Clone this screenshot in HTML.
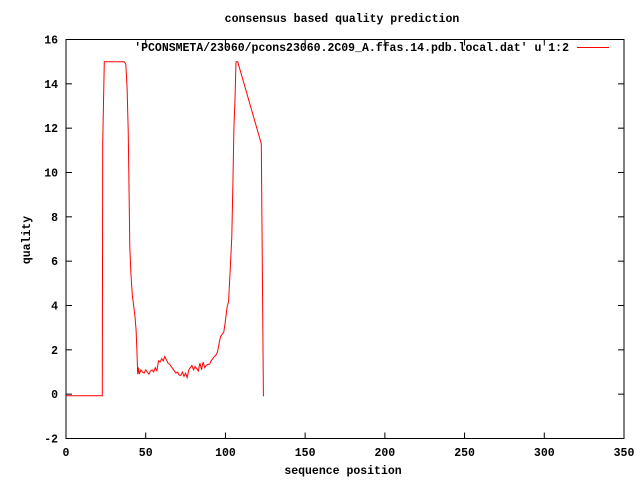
<!DOCTYPE html>
<html><head><meta charset="utf-8"><style>
html,body{margin:0;padding:0;background:#fff;}
svg text{font-family:"Liberation Mono",monospace;font-weight:bold;font-size:11.5px;fill:#000;}
</style></head><body>
<svg id="chart" width="640" height="480" viewBox="0 0 640 480" xmlns="http://www.w3.org/2000/svg">
<rect width="640" height="480" fill="#fff"/>
<text x="342" y="22" text-anchor="middle">consensus based quality prediction</text>
<text x="343" y="474" text-anchor="middle">sequence position</text>
<text x="0" y="0" text-anchor="middle" transform="translate(30,240) rotate(-90)">quality</text>
<g id="ticks"></g>
<rect x="66" y="39.5" width="558" height="399" fill="none" stroke="#000" stroke-width="1"/>
<g>
<text x="569" y="51" text-anchor="end">'PCONSMETA/23060/pcons23060.2C09_A.ffas.14.pdb.local.dat' u 1:2</text>
<line x1="577" y1="47.5" x2="609" y2="47.5" stroke="#f00" stroke-width="1"/>
</g>
<polyline id="series" fill="none" stroke="#f00" stroke-width="1"/>
</svg>
<script>
const xTicks = [0,50,100,150,200,250,300,350];
const yTicks = [-2,0,2,4,6,8,10,12,14,16];
const seqPos = [0,22.8,23,24,36.5,37.5,38.3,39,39.6,40,40.7,41.6,42.5,43.3,44,44.5,45,45.5,46,47,48,49,50,51,52,53,54,55,56,57,58,59,60,61,62,63,64,65,66,67,68,69,70,71,72,73,74,75,76,77,78,79,80,81,82,83,84,85,86,87,88,89,90,91,92,93,94,95,96,97,98,99,100,101,102,103,104,104.7,105.3,106,106.6,107.7,122.5,123.8,124.2,315.5];
const quality = [-0.07,-0.07,11.3,15,15,14.9,13.8,11.9,9.05,6.65,5.45,4.47,3.94,3.49,2.89,1.98,0.9,1.2,0.9,1.1,1.0,0.95,1.1,1.0,0.9,1.05,1.1,1.0,1.2,1.05,1.5,1.45,1.6,1.5,1.7,1.55,1.4,1.35,1.25,1.15,1.05,0.95,1.0,0.85,0.85,1.0,0.8,0.95,0.75,1.1,1.2,1.3,1.1,1.25,1.15,1.05,1.4,1.1,1.45,1.2,1.3,1.35,1.35,1.5,1.6,1.7,1.76,1.9,2.3,2.6,2.7,2.8,3.3,3.9,4.2,5.6,7.1,9.5,12.0,13.3,15,15,11.3,-0.07,-0.07];
const X0=66, X1=624, Y0=438.5, Y1=39.5;
const xMin=0,xMax=350,yMin=-2,yMax=16;
function sx(v){return X0+(v-xMin)/(xMax-xMin)*(X1-X0);}
function sy(v){return Y0-(v-yMin)/(yMax-yMin)*(Y0-Y1);}
const NS="http://www.w3.org/2000/svg";
const g=document.getElementById('ticks');
function mk(tag,attrs){const e=document.createElementNS(NS,tag);for(const k in attrs)e.setAttribute(k,attrs[k]);return e;}
xTicks.forEach(t=>{
  const x=sx(t);
  const a=mk('line',{x1:x,y1:Y0,x2:x,y2:Y0-6,stroke:'#000'});
  
  
  g.appendChild(a);
  const b=mk('line',{x1:x,y1:Y1,x2:x,y2:Y1+6,stroke:'#000'});
  
  
  g.appendChild(b);
  const l=mk('text',{x:x,y:456,'text-anchor':'middle'});
  
  
  l.textContent=t;g.appendChild(l);
});
yTicks.forEach(t=>{
  const y=sy(t);
  const a=mk('line',{x1:X0,y1:y,x2:X0+6,y2:y,stroke:'#000'});
  
  
  g.appendChild(a);
  const b=mk('line',{x1:X1,y1:y,x2:X1-6,y2:y,stroke:'#000'});
  
  
  g.appendChild(b);
  const l=mk('text',{x:58,y:y+4,'text-anchor':'end'});
  
  
  l.textContent=t;g.appendChild(l);
});
document.getElementById('series').setAttribute('points',seqPos.map((v,i)=>sx(v).toFixed(1)+','+sy(quality[i]).toFixed(1)).join(' '));
</script>
</body></html>
